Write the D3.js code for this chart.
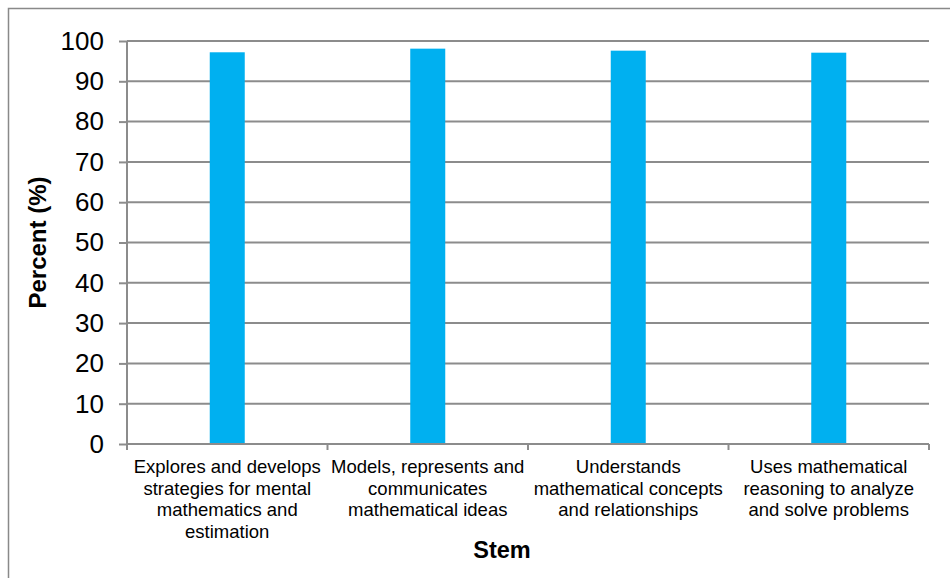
<!DOCTYPE html>
<html>
<head>
<meta charset="utf-8">
<script src="https://cdn.jsdelivr.net/npm/d3@7"></script>
<style>
  html, body { margin: 0; padding: 0; background: #fff; }
  svg { display: block; font-family: "Liberation Sans", Arial, sans-serif; }
</style>
</head>
<body>
<svg id="chart" width="950" height="578"></svg>
<script>
// Share of students meeting each mathematics outcome
const categories = [
  ["Explores and develops", "strategies for mental", "mathematics and", "estimation"],
  ["Models, represents and", "communicates", "mathematical ideas"],
  ["Understands", "mathematical concepts", "and relationships"],
  ["Uses mathematical", "reasoning to analyze", "and solve problems"]
];
const values = [97.2, 98.1, 97.6, 97.1];
const yTicks = [0, 10, 20, 30, 40, 50, 60, 70, 80, 90, 100];
const xTitle = "Stem";
const yTitle = "Percent (%)";

const svg = d3.select("#chart");
const margin = { left: 127, right: 21, top: 41, bottom: 134 };
const W = 950, H = 578;
const x0 = margin.left, x1 = W - margin.right;
const yTop = margin.top, yBot = H - margin.bottom;

// outer chart frame (extends past the canvas on the right and bottom)
svg.append("rect")
  .attr("x", 8.5).attr("y", 8.5)
  .attr("width", 1000).attr("height", 1000)
  .attr("fill", "none").attr("stroke", "#898989").attr("stroke-width", 1.5);

const x = d3.scaleBand()
  .domain(d3.range(categories.length))
  .range([x0, x1])
  .paddingInner(0).paddingOuter(0);

const y = d3.scaleLinear().domain([0, 100]).range([yBot, yTop]);

// horizontal gridlines
svg.append("g")
  .selectAll("line")
  .data(yTicks.filter(d => d > 0))
  .join("line")
  .attr("x1", x0).attr("x2", x1)
  .attr("y1", d => y(d)).attr("y2", d => y(d))
  .attr("stroke", "#8c8c8c").attr("stroke-width", 2);

// bars
const barW = 35;
svg.append("g")
  .selectAll("rect")
  .data(values)
  .join("rect")
  .attr("x", (d, i) => x(i) + x.bandwidth() / 2 - barW / 2)
  .attr("y", d => y(d))
  .attr("width", barW)
  .attr("height", d => y(0) - y(d))
  .attr("fill", "#00B0F0");

// y axis
const yAxis = d3.axisLeft(y).tickValues(yTicks).tickSize(8).tickPadding(15);
const gy = svg.append("g").attr("transform", `translate(${x0},0)`).call(yAxis);
gy.select(".domain").attr("stroke", "#8c8c8c").attr("stroke-width", 2)
  .attr("d", `M0,${yBot}V${yTop}`);
gy.selectAll(".tick line").attr("stroke", "#8c8c8c").attr("stroke-width", 2);
gy.selectAll(".tick text")
  .attr("fill", "#000")
  .style("font-size", "26px")
  .style("font-family", "'Liberation Sans', Arial, sans-serif");

// x axis with category boundary ticks
const gx = svg.append("g").attr("transform", `translate(0,${yBot})`);
gx.append("line")
  .attr("x1", x0).attr("x2", x1).attr("y1", 0).attr("y2", 0)
  .attr("stroke", "#8c8c8c").attr("stroke-width", 2);
const bounds = d3.range(categories.length + 1).map(i => x0 + i * x.bandwidth());
gx.selectAll("line.tk")
  .data(bounds)
  .join("line")
  .attr("class", "tk")
  .attr("x1", d => d).attr("x2", d => d)
  .attr("y1", 0).attr("y2", 6)
  .attr("stroke", "#8c8c8c").attr("stroke-width", 2);

// category labels
const lineH = 21.7;
categories.forEach((lines, i) => {
  const t = svg.append("text")
    .attr("text-anchor", "middle")
    .attr("fill", "#000")
    .style("font-size", "18.5px");
  lines.forEach((ln, j) => {
    t.append("tspan")
      .attr("x", x(i) + x.bandwidth() / 2)
      .attr("y", yBot + 29 + j * lineH)
      .text(ln);
  });
});

// axis titles
svg.append("text")
  .attr("x", 502).attr("y", 558)
  .attr("text-anchor", "middle")
  .style("font-size", "23.5px").style("font-weight", "bold")
  .text(xTitle);

svg.append("text")
  .attr("transform", `translate(46,${(yTop + yBot) / 2}) rotate(-90)`)
  .attr("text-anchor", "middle")
  .style("font-size", "24px").style("font-weight", "bold")
  .text(yTitle);
</script>
</body>
</html>
